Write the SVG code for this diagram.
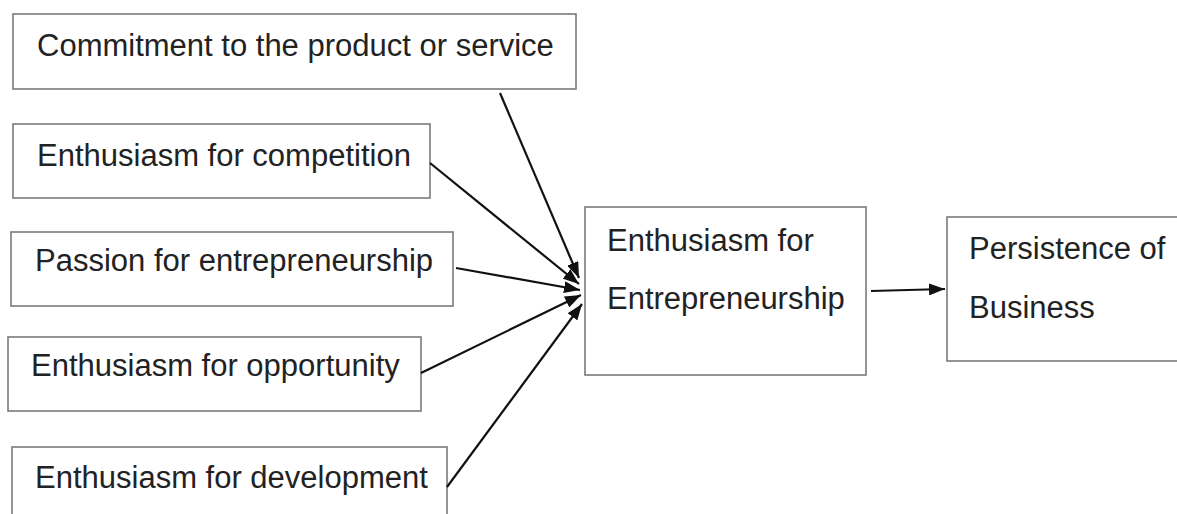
<svg xmlns="http://www.w3.org/2000/svg" width="1177" height="514" viewBox="0 0 1177 514">
<defs>
<marker id="ah" markerWidth="16" markerHeight="12" refX="16" refY="6" orient="auto" markerUnits="userSpaceOnUse">
<path d="M0,0 L16,6 L0,12 Z" fill="#111"/>
</marker>
<style>
.box{fill:#fff;stroke:#7a7a7a;stroke-width:1.6}
.t{font-family:"Liberation Sans",Arial,sans-serif;font-size:31px;fill:#222}
.c{stroke:#111;stroke-width:2.2;fill:none;marker-end:url(#ah)}
</style>
</defs>
<rect width="1177" height="514" fill="#fff"/>
<g id="n1"><rect class="box" x="13" y="14" width="563" height="75"/><text class="t" x="37" y="56">Commitment to the product or service</text></g>
<g id="n2"><rect class="box" x="13" y="124" width="417" height="74"/><text class="t" x="37" y="166">Enthusiasm for competition</text></g>
<g id="n3"><rect class="box" x="11" y="232" width="442" height="74"/><text class="t" x="35" y="271">Passion for entrepreneurship</text></g>
<g id="n4"><rect class="box" x="8" y="337" width="413" height="74"/><text class="t" x="31" y="376">Enthusiasm for opportunity</text></g>
<g id="n5"><rect class="box" x="12" y="447" width="435" height="80"/><text class="t" x="35" y="488">Enthusiasm for development</text></g>
<g id="n6"><rect class="box" x="585" y="207" width="281" height="168"/><text class="t" x="607" y="251">Enthusiasm for</text><text class="t" x="607" y="309">Entrepreneurship</text></g>
<g id="n7"><rect class="box" x="947" y="217" width="240" height="144"/><text class="t" x="969" y="259">Persistence of</text><text class="t" x="969" y="318">Business</text></g>
<g id="connectors">
<line class="c" x1="500" y1="93" x2="579" y2="278"/>
<line class="c" x1="430" y1="163" x2="579" y2="284"/>
<line class="c" x1="456" y1="268" x2="580" y2="290"/>
<line class="c" x1="421" y1="373" x2="581" y2="295"/>
<line class="c" x1="447" y1="487" x2="582" y2="304"/>
<line class="c" x1="871" y1="291" x2="945" y2="289"/>
</g>
</svg>
